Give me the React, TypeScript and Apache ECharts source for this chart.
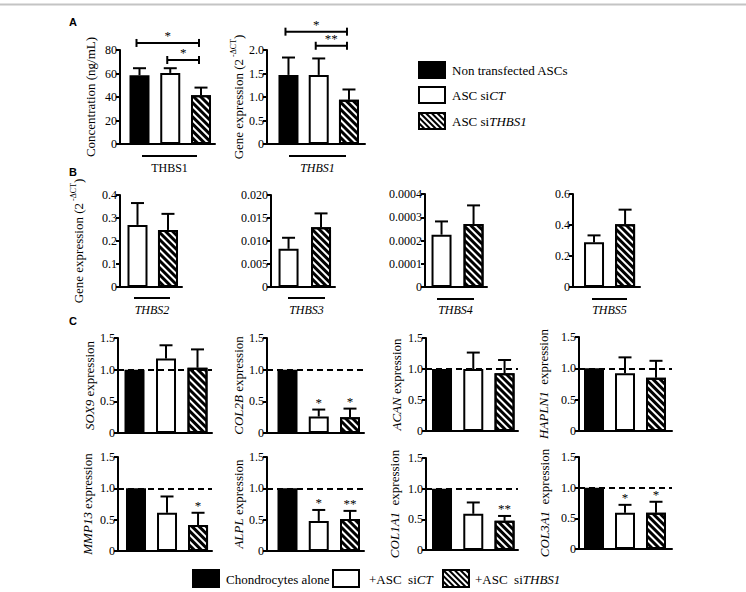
import React, { useEffect, useRef } from 'react';
import * as echarts from 'echarts';

const SERIF = 'Liberation Serif';
const SANS = 'Liberation Sans';

// ---------- Panel A ----------
const groupsA = ['Non transfected ASCs', 'ASC siCT', 'ASC siTHBS1'];
const thbs1ProteinMean = [58.5, 60.5, 41.5];
const thbs1ProteinSem = [6, 4, 6.5];
const thbs1ProteinBrackets: [number, number, number, string][] = [[0, 2, 86, '*'], [1, 2, 71.5, '*']];
const thbs1GeneMean = [1.47, 1.47, 0.94];
const thbs1GeneSem = [0.37, 0.35, 0.22];
const thbs1GeneBrackets: [number, number, number, string][] = [[0, 2, 2.39, '*'], [1, 2, 2.09, '**']];

// ---------- Panel B ----------
const groupsB = ['ASC siCT', 'ASC siTHBS1'];
const thbs2Mean = [0.27, 0.248];
const thbs2Sem = [0.095, 0.07];
const thbs3Mean = [0.0083, 0.013];
const thbs3Sem = [0.0024, 0.003];
const thbs4Mean = [0.000225, 0.000271];
const thbs4Sem = [0.000057, 0.00008];
const thbs5Mean = [0.288, 0.405];
const thbs5Sem = [0.045, 0.094];

// ---------- Panel C ----------
const groupsC = ['Chondrocytes alone', '+ASC siCT', '+ASC siTHBS1'];
const sox9Mean = [1, 1.175, 1.03];
const sox9Sem = [0, 0.21, 0.29];
const sox9Sig = ['', '', ''];
const col2bMean = [1, 0.26, 0.25];
const col2bSem = [0, 0.11, 0.135];
const col2bSig = ['', '*', '*'];
const acanMean = [1, 1.0, 0.93];
const acanSem = [0, 0.265, 0.215];
const acanSig = ['', '', ''];
const hapln1Mean = [1, 0.92, 0.85];
const hapln1Sem = [0, 0.255, 0.27];
const hapln1Sig = ['', '', ''];
const mmp13Mean = [1, 0.61, 0.415];
const mmp13Sem = [0, 0.26, 0.195];
const mmp13Sig = ['', '', '*'];
const alplMean = [1, 0.48, 0.51];
const alplSem = [0, 0.175, 0.13];
const alplSig = ['', '*', '**'];
const col1a1Mean = [1, 0.59, 0.475];
const col1a1Sem = [0, 0.185, 0.08];
const col1a1Sig = ['', '', '**'];
const col3a1Mean = [1, 0.59, 0.59];
const col3a1Sem = [0, 0.13, 0.18];
const col3a1Sig = ['', '*', '*'];

const GENE_EXPR = '{n|Gene expression (2}{s| -ΔCT}{n|)}';

type Kind = 'black' | 'white' | 'hatch';
interface Panel {
  cats: string[];
  kinds: Kind[];
  mean: number[];
  sem: number[];
  sig?: string[];
  brackets?: [number, number, number, string][];
  yMax: number;
  interval: number;
  dec: number;
  yName?: string;
  nameGap?: number;
  grid: [number, number, number, number];
  xr: [number, number];
  refLine?: boolean;
  xLabel?: { text: string; cx: number; y: number; w: number; ly: number };
}

const KA: Kind[] = ['black', 'white', 'hatch'];
const KB: Kind[] = ['white', 'hatch'];

const panels: Panel[] = [
  { cats: groupsA, kinds: KA, mean: thbs1ProteinMean, sem: thbs1ProteinSem, brackets: thbs1ProteinBrackets, yMax: 80, interval: 20, dec: 0, yName: 'Concentration (ng/mL)', nameGap: 23, grid: [120, 50, 95, 94], xr: [-0.634, 2.455], xLabel: { text: 'THBS1', cx: 169.5, y: 156, w: 55, ly: 167.5 } },
  { cats: groupsA, kinds: KA, mean: thbs1GeneMean, sem: thbs1GeneSem, brackets: thbs1GeneBrackets, yMax: 2, interval: 0.5, dec: 1, yName: GENE_EXPR, nameGap: 22, grid: [267, 50, 98, 94], xr: [-0.71, 2.53], xLabel: { text: '{i|THBS1}', cx: 317.5, y: 156, w: 57, ly: 167.5 } },
  { cats: groupsB, kinds: KB, mean: thbs2Mean, sem: thbs2Sem, yMax: 0.4, interval: 0.1, dec: 1, yName: GENE_EXPR, nameGap: 35, grid: [120, 195, 62, 92], xr: [-0.574, 1.46], xLabel: { text: '{i|THBS2}', cx: 152, y: 298, w: 36, ly: 310 } },
  { cats: groupsB, kinds: KB, mean: thbs3Mean, sem: thbs3Sem, yMax: 0.02, interval: 0.005, dec: 3, grid: [271, 195, 64, 92], xr: [-0.54, 1.43], xLabel: { text: '{i|THBS3}', cx: 306.5, y: 298, w: 37, ly: 310 } },
  { cats: groupsB, kinds: KB, mean: thbs4Mean, sem: thbs4Sem, yMax: 0.0004, interval: 0.0001, dec: 4, grid: [425, 194, 62, 93], xr: [-0.516, 1.42], xLabel: { text: '{i|THBS4}', cx: 455.5, y: 299, w: 37, ly: 310 } },
  { cats: groupsB, kinds: KB, mean: thbs5Mean, sem: thbs5Sem, yMax: 0.6, interval: 0.2, dec: 1, grid: [573, 194, 67, 93], xr: [-0.677, 1.48], xLabel: { text: '{i|THBS5}', cx: 609.5, y: 299, w: 35, ly: 310 } },
  { cats: groupsC, kinds: KA, mean: sox9Mean, sem: sox9Sem, sig: sox9Sig, yMax: 1.5, interval: 0.5, dec: 1, yName: '{i|SOX9} expression', nameGap: 18, grid: [118, 338, 94, 95], xr: [-0.524, 2.46], refLine: true },
  { cats: groupsC, kinds: KA, mean: col2bMean, sem: col2bSem, sig: col2bSig, yMax: 1.5, interval: 0.5, dec: 1, yName: '{i|COL2B} expression', nameGap: 15, grid: [267, 338, 97, 95], xr: [-0.656, 2.448], refLine: true },
  { cats: groupsC, kinds: KA, mean: acanMean, sem: acanSem, sig: acanSig, yMax: 1.5, interval: 0.5, dec: 1, yName: '{i|ACAN} expression', nameGap: 23, grid: [426, 338, 92, 93], xr: [-0.512, 2.43], refLine: true },
  { cats: groupsC, kinds: KA, mean: hapln1Mean, sem: hapln1Sem, sig: hapln1Sig, yMax: 1.5, interval: 0.5, dec: 1, yName: '{i|HAPLN1}  expression', nameGap: 29, grid: [579, 337, 93, 94], xr: [-0.484, 2.516], refLine: true },
  { cats: groupsC, kinds: KA, mean: mmp13Mean, sem: mmp13Sem, sig: mmp13Sig, yMax: 1.5, interval: 0.5, dec: 1, yName: '{i|MMP13} expression', nameGap: 24, grid: [118, 457, 94, 94], xr: [-0.58, 2.45], refLine: true },
  { cats: groupsC, kinds: KA, mean: alplMean, sem: alplSem, sig: alplSig, yMax: 1.5, interval: 0.5, dec: 1, yName: '{i|ALPL} expression', nameGap: 13, grid: [267, 457, 97, 94], xr: [-0.656, 2.448], refLine: true },
  { cats: groupsC, kinds: KA, mean: col1a1Mean, sem: col1a1Sem, sig: col1a1Sig, yMax: 1.5, interval: 0.5, dec: 1, yName: '{i|COL1A1}  expression', nameGap: 25, grid: [426, 458, 92, 92], xr: [-0.512, 2.43], refLine: true },
  { cats: groupsC, kinds: KA, mean: col3a1Mean, sem: col3a1Sem, sig: col3a1Sig, yMax: 1.5, interval: 0.5, dec: 1, yName: '{i|COL3A1}  expression', nameGap: 28, grid: [579, 457, 93, 92], xr: [-0.484, 2.516], refLine: true },
];

const HATCH_DECAL = {
  symbol: 'rect',
  symbolSize: 1,
  dashArrayX: [1, 0],
  dashArrayY: [2.2, 2],
  rotation: Math.PI / 4,
  color: '#000',
};

function itemStyleFor(k: Kind) {
  if (k === 'black') return { color: '#000', borderColor: '#000', borderWidth: 2 };
  if (k === 'white') return { color: '#fff', borderColor: '#000', borderWidth: 2 };
  return { color: '#fff', borderColor: '#000', borderWidth: 2, decal: HATCH_DECAL };
}

const RICH = {
  n: { fontFamily: SERIF, fontSize: 13, color: '#000', lineHeight: 16, verticalAlign: 'bottom' },
  s: { fontFamily: SERIF, fontSize: 8, color: '#000', lineHeight: 16, verticalAlign: 'top' },
  i: { fontFamily: SERIF, fontSize: 13, color: '#000', fontStyle: 'italic' },
};

const STAR_STYLE = { fontFamily: SERIF, fontSize: 13, fill: '#000', stroke: 'none', align: 'center', verticalAlign: 'bottom' };

function errRender(sig: string[]) {
  return (params: any, api: any) => {
    const i = api.value(0);
    const m = api.value(1);
    const s = api.value(2);
    const b = api.coord([i, m]);
    const t = api.coord([i, m + s]);
    const st = { stroke: '#000', lineWidth: 2 };
    const children: any[] = [];
    if (s > 0) {
      children.push({ type: 'line', shape: { x1: t[0], y1: b[1], x2: t[0], y2: t[1] }, style: st });
      children.push({ type: 'line', shape: { x1: t[0] - 6.5, y1: t[1], x2: t[0] + 6.5, y2: t[1] }, style: st });
    }
    const label = sig[params.dataIndex];
    if (label) {
      children.push({ type: 'text', x: t[0], y: t[1] - 1, style: { ...STAR_STYLE, text: label } });
    }
    return { type: 'group', children };
  };
}

function bracketRender(labels: string[]) {
  return (params: any, api: any) => {
    const a = api.coord([api.value(0), api.value(2)]);
    const b = api.coord([api.value(1), api.value(2)]);
    const st = { stroke: '#000', lineWidth: 2 };
    return {
      type: 'group',
      children: [
        { type: 'line', shape: { x1: a[0] - 3, y1: a[1], x2: b[0] - 2, y2: b[1] }, style: st },
        { type: 'line', shape: { x1: a[0] - 3, y1: a[1] - 4, x2: a[0] - 3, y2: a[1] + 4 }, style: st },
        { type: 'line', shape: { x1: b[0] - 2, y1: b[1] - 4, x2: b[0] - 2, y2: b[1] + 4 }, style: st },
        { type: 'text', x: (a[0] + b[0]) / 2 - 2.5, y: a[1] - 1, style: { ...STAR_STYLE, text: labels[params.dataIndex] } },
      ],
    };
  };
}

function hatchLines(x: number, y: number, w: number, h: number, p: number) {
  const out: any[] = [];
  for (let c = -h; c < w; c += p) {
    const u0 = Math.max(0, c);
    const u1 = Math.min(w, c + h);
    if (u1 > u0) {
      out.push({ type: 'line', shape: { x1: x + u0, y1: y + u0 - c, x2: x + u1, y2: y + u1 - c }, style: { stroke: '#000', lineWidth: 2 } });
    }
  }
  return out;
}

function legendBox(x: number, y: number, w: number, h: number, k: Kind) {
  const els: any[] = [
    { type: 'rect', shape: { x, y, width: w, height: h }, style: { fill: k === 'black' ? '#000' : '#fff', stroke: 'none' } },
  ];
  if (k === 'hatch') els.push(...hatchLines(x, y, w, h, 5.7));
  els.push({ type: 'rect', shape: { x, y, width: w, height: h }, style: { fill: 'none', stroke: '#000', lineWidth: 2 } });
  return els;
}

function legendText(x: number, y: number, text: string, size: number) {
  return {
    type: 'text', x, y,
    style: {
      text, fontFamily: SERIF, fontSize: size, fill: '#000', align: 'left', verticalAlign: 'middle',
      rich: { i: { fontFamily: SERIF, fontSize: size, fontStyle: 'italic', fill: '#000' } },
    },
  };
}

function buildOption() {
  const grid: any[] = [];
  const xAxis: any[] = [];
  const yAxis: any[] = [];
  const series: any[] = [];
  const graphic: any[] = [];

  panels.forEach((p, k) => {
    const [l, t, w, h] = p.grid;
    grid.push({ left: l, top: t, width: w, height: h, containLabel: false });
    xAxis.push({
      type: 'value', gridIndex: k, min: p.xr[0], max: p.xr[1],
      axisLine: { show: true, onZero: false, lineStyle: { color: '#000', width: 2 } },
      axisTick: { show: false }, axisLabel: { show: false }, splitLine: { show: false },
    });
    yAxis.push({
      type: 'value', gridIndex: k, min: 0, max: p.yMax, interval: p.interval,
      axisLine: { show: true, onZero: false, lineStyle: { color: '#000', width: 2 } },
      axisTick: { show: true, length: 4, lineStyle: { color: '#000', width: 2 } },
      splitLine: { show: false },
      axisLabel: {
        fontFamily: SERIF, fontSize: 12, color: '#000', margin: 3,
        formatter: (v: number) => (v === 0 ? '0' : v.toFixed(p.dec)),
      },
      name: p.yName || '', nameLocation: 'middle', nameGap: p.nameGap || 20,
      nameTextStyle: { fontFamily: SERIF, fontSize: 13, color: '#000', rich: RICH },
    });
    series.push({
      type: 'bar', name: p.cats.join(' / '), xAxisIndex: k, yAxisIndex: k, barWidth: 20, z: 2,
      data: p.mean.map((v, j) => ({ value: [j, v], name: p.cats[j], itemStyle: itemStyleFor(p.kinds[j]) })),
      markLine: p.refLine
        ? {
            silent: true, symbol: ['none', 'none'], label: { show: false },
            lineStyle: { type: [6, 4], width: 2, color: '#000' },
            data: [{ yAxis: 1 }], animation: false,
          }
        : undefined,
    });
    const sig = p.sig || p.mean.map(() => '');
    series.push({
      type: 'custom', xAxisIndex: k, yAxisIndex: k, z: 4, clip: false, itemStyle: { color: '#000' },
      renderItem: errRender(sig),
      data: p.mean.map((v, j) => [j, v, p.sem[j]]),
    });
    if (p.brackets) {
      series.push({
        type: 'custom', xAxisIndex: k, yAxisIndex: k, z: 4, clip: false, itemStyle: { color: '#000' },
        renderItem: bracketRender(p.brackets.map((b) => b[3])),
        data: p.brackets.map((b) => [b[0], b[1], b[2]]),
      });
    }
    if (p.xLabel) {
      const xl = p.xLabel;
      graphic.push({ type: 'line', shape: { x1: xl.cx - xl.w / 2, y1: xl.y, x2: xl.cx + xl.w / 2, y2: xl.y }, style: { stroke: '#000', lineWidth: 2 } });
      graphic.push({
        type: 'text', x: xl.cx, y: xl.ly,
        style: {
          text: xl.text, fontFamily: SERIF, fontSize: 12, fill: '#000', align: 'center', verticalAlign: 'middle',
          rich: { i: { fontFamily: SERIF, fontSize: 12, fontStyle: 'italic', fill: '#000' } },
        },
      });
    }
  });

  // top rule
  graphic.push({ type: 'line', shape: { x1: 0, y1: 4.5, x2: 746, y2: 4.5 }, style: { stroke: '#c4c4c4', lineWidth: 2 } });
  // panel letters
  [['A', 22], ['B', 172], ['C', 321]].forEach(([s, y]) => {
    graphic.push({ type: 'text', x: 69, y: y as number, style: { text: s as string, fontFamily: SANS, fontWeight: 'bold', fontSize: 11, fill: '#000', verticalAlign: 'middle' } });
  });
  // legend A
  const legA = ['Non transfected ASCs', 'ASC si{i|CT}', 'ASC si{i|THBS1}'];
  const legAy = [62, 87, 113];
  KA.forEach((k, j) => {
    graphic.push(...legendBox(419, legAy[j], 26, 16, k));
    graphic.push(legendText(452, legAy[j] + 8.5, legA[j], 13));
  });
  // bottom legend
  const legC = ['Chondrocytes alone', '+ASC  si{i|CT}', '+ASC  si{i|THBS1}'];
  const legCx = [193, 333, 443];
  const legCtx = [226, 369, 475];
  KA.forEach((k, j) => {
    graphic.push(...legendBox(legCx[j], 570, 26, 17, k));
    graphic.push(legendText(legCtx[j], 579, legC[j], 13));
  });

  return { animation: false, color: ['#000'], backgroundColor: '#fff', textStyle: { fontFamily: SERIF }, grid, xAxis, yAxis, series, graphic };
}

export default function App() {
  const ref = useRef<HTMLDivElement>(null);
  useEffect(() => {
    if (!ref.current) return;
    const chart = echarts.init(ref.current, undefined, { renderer: 'svg' });
    chart.setOption(buildOption() as any);
    return () => chart.dispose();
  }, []);
  return <div ref={ref} style={{ position: 'fixed', left: 0, top: 0, width: 746, height: 592 }} />;
}
